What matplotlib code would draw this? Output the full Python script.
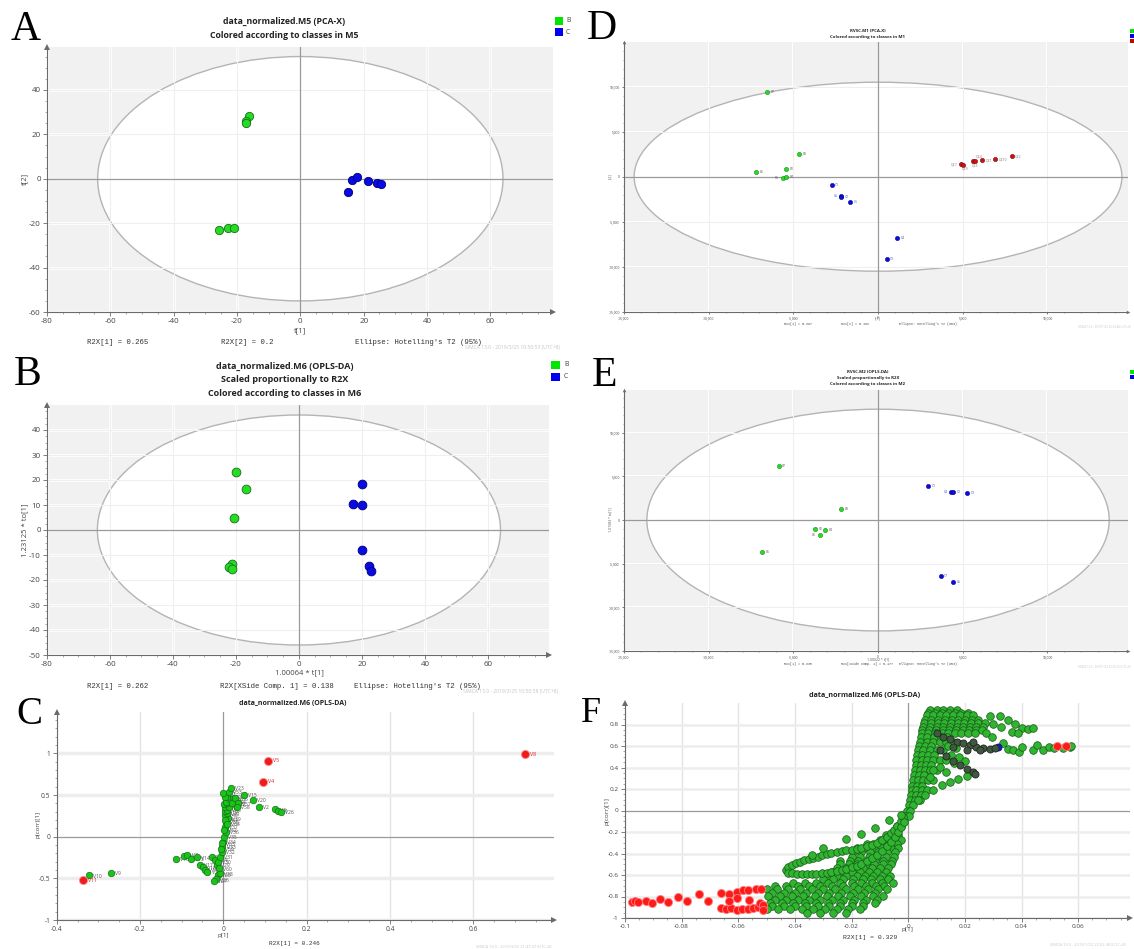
import matplotlib
matplotlib.use("Agg")
import matplotlib.pyplot as plt
from matplotlib.patches import Ellipse, Rectangle
from matplotlib.ticker import MultipleLocator

W, H = 1134, 949
SANS = ['Open Sans', 'DejaVu Sans']
MONO = ['Liberation Mono', 'DejaVu Sans Mono']
SERIF = ['Liberation Serif', 'DejaVu Serif']
plt.rcParams['font.family'] = SANS

# ---------------- Panel A data (PCA-X scores) ----------------
a_green_x = [-16.3, -17.1, -17.0, -25.6, -22.8, -20.8]
a_green_y = [28.3, 25.8, 25.2, -23.1, -22.3, -22.3]
a_blue_x = [16.3, 18.0, 21.3, 24.1, 25.4, 15.1]
a_blue_y = [-0.6, 0.6, -0.9, -1.9, -2.5, -6.1]
a_xticks = [-80, -60, -40, -20, 0, 20, 40, 60]
a_yticks = [-60, -40, -20, 0, 20, 40]
a_ellipse = (128, 110)

# ---------------- Panel B data (OPLS-DA scores) ----------------
b_green_x = [-20.1, -16.8, -20.7, -21.3, -22.2, -21.1]
b_green_y = [23.1, 16.4, 4.7, -13.5, -14.9, -15.5]
b_blue_x = [20.0, 17.2, 19.9, 20.0, 22.1, 22.9]
b_blue_y = [18.5, 10.5, 9.9, -8.0, -14.4, -16.3]
b_xticks = [-80, -60, -40, -20, 0, 20, 40, 60]
b_yticks = [-50, -40, -30, -20, -10, 0, 10, 20, 30, 40]
b_ellipse = (128, 92)

# ---------------- Panel C data (S-plot) ----------------
c_red_x = [0.725, 0.107, 0.095, -0.337]
c_red_y = [0.988, 0.908, 0.660, -0.525]
c_red_lab = ["V8", "V5", "V4", "V11"]
c_green_x = [-0.322, -0.269, -0.114, -0.094, -0.086, -0.078, -0.064, -0.056, -0.048, -0.044,
             -0.038, -0.028, -0.020, -0.012, -0.018, -0.022, -0.008, -0.016, -0.012, -0.008,
             -0.004, -0.002, 0.000, 0.002, 0.006, 0.004, 0.006, 0.012, 0.004, 0.008,
             0.005, 0.010, 0.004, 0.014, 0.002, 0.010, 0.006, 0.016, 0.010, 0.005,
             0.000, 0.013, 0.018, 0.024, 0.020, 0.028, 0.036, 0.032, 0.050, 0.072,
             0.085, 0.125, 0.131, 0.138, -0.006, -0.010, 0.003, 0.001, -0.004, 0.008]
c_green_y = [-0.464, -0.432, -0.270, -0.228, -0.216, -0.264, -0.248, -0.340, -0.368, -0.400,
             -0.420, -0.240, -0.280, -0.460, -0.512, -0.528, -0.440, -0.340, -0.300, -0.240,
             -0.180, -0.120, -0.060, 0.000, 0.060, 0.120, 0.180, 0.220, 0.260, 0.280,
             0.312, 0.320, 0.360, 0.360, 0.388, 0.408, 0.420, 0.448, 0.480, 0.480,
             0.520, 0.540, 0.588, 0.420, 0.400, 0.460, 0.400, 0.360, 0.504, 0.440,
             0.360, 0.328, 0.308, 0.300, -0.150, -0.380, 0.200, 0.080, -0.080, 0.150]
c_green_lab = ["V10", "V9", "V16", "V6", "V7", "V13", "V14", "V17", "V18", "V19",
               "V21", "V22", "V24", "V25", "V26", "V27", "V28", "V29", "V30", "V31",
               "V32", "V33", "V34", "V35", "V36", "V37", "V38", "V39", "V40", "V41",
               "V42", "V43", "V44", "V45", "V46", "V47", "V48", "V49", "V50", "V51",
               "V52", "V53", "V23", "V54", "V55", "V56", "V57", "V58", "V15", "V20",
               "V2", "V3", "V1", "V26", "V59", "V60", "V61", "V62", "V63", "V64"]
c_xticks = [-0.4, -0.2, 0, 0.2, 0.4, 0.6]
c_xlabels = ["-0.4", "-0.2", "0", "0.2", "0.4", "0.6"]
c_yticks = [-1, -0.5, 0, 0.5, 1]
c_ylabels = ["-1", "-0.5", "0", "0.5", "1"]

# ---------------- Panel D data (PCA-X, RVSC.M1) ----------------
d_green_x = [-6529, -4667, -5451, -7216, -5588, -5431]
d_green_y = [9370, 2556, 815, 519, -185, -74]
d_green_lab = ["B7", "B3", "B2", "B6", "B5", "B4"]
d_blue_x = [-2745, -2216, -2176, -1667, 1137, 510]
d_blue_y = [-889, -2111, -2296, -2815, -6815, -9148]
d_blue_lab = ["C1", "C6", "C2", "C5", "C4", "C3"]
d_red_x = [4882, 5000, 5608, 5745, 6137, 6922, 7882]
d_red_y = [1407, 1333, 1704, 1778, 1815, 1926, 2259]
d_red_lab = ["QC7", "QC9", "QC5", "QC4", "QC1", "QC10", "QC2"]
d_ellipse = (28800, 21000)

# ---------------- Panel E data (OPLS-DA, RVSC.M2) ----------------
e_green_x = [-5870, -2174, -3735, -3123, -3400, -6838]
e_green_y = [6145, 1298, -992, -1183, -1680, -3664]
e_green_lab = ["B7", "B3", "B2", "B4", "B5", "B6"]
e_blue_x = [2964, 4308, 4447, 5257, 3696, 4427]
e_blue_y = [3855, 3244, 3206, 3130, -6412, -7099]
e_blue_lab = ["C1", "C4", "C2", "C3", "C7", "C6"]
e_ellipse = (27300, 25400)

de_ticks = [-15000, -10000, -5000, 0, 5000, 10000]
de_labels = ["-15,000", "-10,000", "-5,000", "0", "5,000", "10,000"]

# ---------------- Panel F data (S-plot, many variables) ----------------
f_rows_y = [0.9375, 0.910, 0.890, 0.844, 0.810, 0.781, 0.750, 0.719, 0.680, 0.640,
            0.600, 0.5625, 0.520, 0.469, 0.420, 0.375, 0.330, 0.281, 0.230, 0.1875,
            0.140, 0.094, 0.050, 0.000, -0.050, -0.140, -0.230, -0.270, -0.3125, -0.350,
            -0.390, -0.430, -0.469, -0.500, -0.531, -0.570, -0.609, -0.640, -0.672, -0.700,
            -0.734, -0.765, -0.797, -0.830, -0.859, -0.890, -0.9125, -0.953]
f_rows_x = [
    [0.0076, 0.0100, 0.0124, 0.0147, 0.0171],
    [0.0070, 0.0094, 0.0118, 0.0141, 0.0165, 0.0188, 0.0212],
    [0.0065, 0.0088, 0.0112, 0.0135, 0.0159, 0.0182, 0.0206, 0.0229],
    [0.0059, 0.0082, 0.0106, 0.0129, 0.0153, 0.0176, 0.0200, 0.0224, 0.0247],
    [0.0056, 0.0080, 0.0104, 0.0128, 0.0151, 0.0175, 0.0198, 0.0222, 0.0245, 0.0270],
    [0.0053, 0.0076, 0.0100, 0.0124, 0.0147, 0.0171, 0.0194, 0.0218, 0.0241, 0.0265],
    [0.0050, 0.0074, 0.0098, 0.0121, 0.0145, 0.0169, 0.0192, 0.0216, 0.0240, 0.0262],
    [0.0047, 0.0071, 0.0094, 0.0118, 0.0141, 0.0165, 0.0188, 0.0212, 0.0235],
    [0.0044, 0.0068, 0.0091, 0.0115, 0.0138],
    [0.0041, 0.0065, 0.0088, 0.0112, 0.0135, 0.0159],
    [0.0038, 0.0060, 0.0082],
    [0.0035, 0.0053, 0.0076, 0.0100, 0.0124],
    [0.0032, 0.0050, 0.0070, 0.0092],
    [0.0029, 0.0047, 0.0065, 0.0088, 0.0112, 0.0135],
    [0.0027, 0.0044, 0.0062, 0.0082],
    [0.0024, 0.0041, 0.0059, 0.0076, 0.0100],
    [0.0021, 0.0038, 0.0056],
    [0.0018, 0.0035, 0.0053, 0.0071, 0.0088],
    [0.0015, 0.0032, 0.0050],
    [0.0012, 0.0029, 0.0047, 0.0065],
    [0.0009, 0.0026, 0.0044],
    [0.0006, 0.0024, 0.0041],
    [0.0003, 0.0018],
    [-0.0006, 0.0006],
    [-0.0010, 0.0003],
    [-0.0040, -0.0025],
    [-0.0080, -0.0055, -0.0035],
    [-0.0100, -0.0070, -0.0045, -0.0025],
    [-0.0147, -0.0124, -0.0088, -0.0065, -0.0041],
    [-0.0180, -0.0155, -0.0120, -0.0095, -0.0060, -0.0035],
    [-0.0194, -0.0165, -0.0135, -0.0106, -0.0076, -0.0047],
    [-0.0200, -0.0170, -0.0140, -0.0110, -0.0080, -0.0050],
    [-0.0241, -0.0206, -0.0176, -0.0147, -0.0118, -0.0088, -0.0059],
    [-0.0240, -0.0210, -0.0180, -0.0150, -0.0120, -0.0090, -0.0060],
    [-0.0253, -0.0218, -0.0188, -0.0159, -0.0129, -0.0100, -0.0071],
    [-0.0270, -0.0235, -0.0200, -0.0170, -0.0140, -0.0110, -0.0080],
    [-0.0288, -0.0253, -0.0218, -0.0182, -0.0153, -0.0124, -0.0094, -0.0065],
    [-0.0300, -0.0265, -0.0230, -0.0195, -0.0160, -0.0130, -0.0100, -0.0070],
    [-0.0406, -0.0365, -0.0324, -0.0282, -0.0241, -0.0200, -0.0165, -0.0129, -0.0094, -0.0053],
    [-0.0470, -0.0430, -0.0390, -0.0350, -0.0310, -0.0270, -0.0230, -0.0190, -0.0150, -0.0115, -0.0085],
    [-0.0500, -0.0465, -0.0424, -0.0382, -0.0341, -0.0300, -0.0259, -0.0218, -0.0176, -0.0141, -0.0106, -0.0076],
    [-0.0480, -0.0440, -0.0400, -0.0360, -0.0318, -0.0278, -0.0237, -0.0195, -0.0155, -0.0118],
    [-0.0494, -0.0453, -0.0412, -0.0371, -0.0329, -0.0288, -0.0247, -0.0206, -0.0165, -0.0124, -0.0088],
    [-0.0470, -0.0430, -0.0390, -0.0350, -0.0310, -0.0270, -0.0230, -0.0190, -0.0150, -0.0110],
    [-0.0488, -0.0447, -0.0406, -0.0365, -0.0324, -0.0282, -0.0241, -0.0200, -0.0159, -0.0118],
    [-0.0480, -0.0440, -0.0400, -0.0360, -0.0320, -0.0280, -0.0240, -0.0200, -0.0160],
    [-0.0500, -0.0459, -0.0418, -0.0376, -0.0335, -0.0294, -0.0253, -0.0212, -0.0171],
    [-0.0359, -0.0312, -0.0265, -0.0218],
]
f_loop_x = [-0.0432, -0.0424, -0.0412, -0.0398, -0.0382, -0.0367, -0.0352, -0.0335, -0.0320, -0.0304,
            -0.0288, -0.0271, -0.0253, -0.0235, -0.0218, -0.0200, -0.0182, -0.0165, -0.0147, -0.0129,
            -0.0112, -0.0094, -0.0076, -0.0062, -0.0049, -0.0038, -0.0027, -0.0018,
            -0.0426, -0.0412, -0.0394, -0.0376, -0.0359, -0.0341, -0.0324, -0.0306, -0.0288, -0.0271,
            -0.0253, -0.0235, -0.0218, -0.0200, -0.0182, -0.0165, -0.0147, -0.0129, -0.0112, -0.0094,
            -0.0076, -0.0062, -0.0047, -0.0035, -0.0024, -0.0014]
f_loop_y = [-0.556, -0.525, -0.506, -0.491, -0.475, -0.4625, -0.450, -0.4375, -0.428, -0.416,
            -0.406, -0.397, -0.3875, -0.378, -0.372, -0.366, -0.356, -0.347, -0.334, -0.319,
            -0.300, -0.275, -0.244, -0.2125, -0.181, -0.141, -0.100, -0.0625,
            -0.578, -0.584, -0.5875, -0.591, -0.591, -0.591, -0.5875, -0.584, -0.578, -0.572,
            -0.5625, -0.553, -0.541, -0.528, -0.5125, -0.494, -0.472, -0.444, -0.4125, -0.375,
            -0.334, -0.294, -0.250, -0.203, -0.156, -0.109]
f_wedge_x = [0.0206, 0.0176, 0.0147, 0.0118, 0.0088, 0.0059, 0.0035, 0.0088, 0.0112, 0.0135,
             0.0076, 0.0140, 0.0170, 0.0150, 0.0180, 0.0200, 0.0160]
f_wedge_y = [0.319, 0.294, 0.266, 0.234, 0.194, 0.140, 0.094, 0.375, 0.406, 0.359,
             0.3125, 0.600, 0.580, 0.520, 0.500, 0.460, 0.440]
f_arm_x = [0.0288, 0.0324, 0.0353, 0.0376, 0.0400, 0.0424, 0.0441, 0.0300, 0.0329, 0.0365,
           0.0388, 0.0276, 0.0294, 0.0335, 0.0353, 0.0371, 0.0391, 0.0400, 0.0439, 0.0453,
           0.0476, 0.0498, 0.0514, 0.0547, 0.0571, 0.0576]
f_arm_y = [0.875, 0.881, 0.844, 0.806, 0.766, 0.756, 0.766, 0.806, 0.775, 0.734,
           0.719, 0.719, 0.6875, 0.631, 0.572, 0.5625, 0.547, 0.594, 0.5625, 0.609,
           0.5625, 0.594, 0.578, 0.578, 0.594, 0.600]
f_scatter_x = [-0.0067, -0.0118, -0.0165, -0.0218, -0.0302, -0.0341, -0.0024]
f_scatter_y = [-0.084, -0.1625, -0.219, -0.266, -0.353, -0.4125, -0.040]
f_dark_x = [0.0100, 0.0124, 0.0147, 0.0171, 0.0194, 0.0218, 0.0241, 0.0265, 0.0288, 0.0306,
            0.0206, 0.0253, 0.0229, 0.0159, 0.0112, 0.0135, 0.0159, 0.0182, 0.0206, 0.0229, 0.0235]
f_dark_y = [0.719, 0.681, 0.6625, 0.640, 0.625, 0.609, 0.594, 0.584, 0.575, 0.584,
            0.5625, 0.5625, 0.640, 0.594, 0.5625, 0.506, 0.4625, 0.422, 0.390, 0.359, 0.3375]
f_red_x = [-0.0976, -0.0965, -0.0953, -0.0926, -0.0904, -0.0876, -0.0847, -0.0814, -0.0780, -0.0740,
           -0.0706, -0.0661, -0.0633, -0.0606, -0.0582, -0.0565, -0.0538, -0.0521, -0.0661, -0.0644,
           -0.0624, -0.0606, -0.0588, -0.0565, -0.0549, -0.0529, -0.0524, -0.0514, -0.0512, -0.0633,
           -0.0606, -0.0561, 0.0527, 0.0556]
f_red_y = [-0.850, -0.844, -0.853, -0.8375, -0.859, -0.819, -0.853, -0.806, -0.844, -0.781,
           -0.844, -0.766, -0.775, -0.759, -0.744, -0.741, -0.734, -0.728, -0.906, -0.916,
           -0.906, -0.922, -0.9125, -0.9125, -0.906, -0.897, -0.859, -0.881, -0.922, -0.8375,
           -0.8125, -0.834, 0.600, 0.600]
f_blue_x = [0.0318]
f_blue_y = [0.594]
f_xticks = [-0.1, -0.08, -0.06, -0.04, -0.02, 0, 0.02, 0.04, 0.06]
f_xlabels = ["-0.1", "-0.08", "-0.06", "-0.04", "-0.02", "0", "0.02", "0.04", "0.06"]
f_yticks = [-1, -0.8, -0.6, -0.4, -0.2, 0, 0.2, 0.4, 0.6, 0.8]
f_ylabels = ["-1", "-0.8", "-0.6", "-0.4", "-0.2", "0", "0.2", "0.4", "0.6", "0.8"]

# ---------------- colours ----------------
GREEN = '#22dd22'
GREEN_EDGE = '#1d6b1d'
BLUE = '#0a0ae6'
BLUE_EDGE = '#00006e'
RED = '#ee1c1c'
FGREEN = '#2fb52f'

fig = plt.figure(figsize=(W / 100, H / 100), dpi=100)
fig.patch.set_facecolor('white')


def rect(l, t, r, b):
    return [l / W, 1 - b / H, (r - l) / W, (b - t) / H]


def ftext(x, y, s, size, ha='center', va='center', weight='normal', color='#222222',
          family=None, rotation=0):
    fig.text(x / W, 1 - y / H, s, fontsize=size, ha=ha, va=va, fontweight=weight,
             color=color, family=family if family else SANS, rotation=rotation)


def fbox(x, y, w, h, color):
    fig.add_artist(Rectangle((x / W, 1 - (y + h) / H), w / W, h / H,
                             transform=fig.transFigure, facecolor=color,
                             edgecolor='none', clip_on=False))


def make_axes(box, xlim, ylim, xticks, yticks, xlabels, ylabels, bg, fs,
              minor_x, minor_y, arrow_ms=4, tlen=3):
    ax = fig.add_axes(rect(*box))
    ax.set_xlim(xlim)
    ax.set_ylim(ylim)
    ax.set_facecolor(bg)
    for s in ('top', 'right'):
        ax.spines[s].set_visible(False)
    for s in ('left', 'bottom'):
        ax.spines[s].set_color('#6a6a6a')
        ax.spines[s].set_linewidth(0.8)
    ax.set_xticks(xticks)
    ax.set_xticklabels(xlabels)
    ax.set_yticks(yticks)
    ax.set_yticklabels(ylabels)
    ax.xaxis.set_minor_locator(MultipleLocator(minor_x))
    ax.yaxis.set_minor_locator(MultipleLocator(minor_y))
    ax.tick_params(which='major', direction='out', length=tlen, width=0.6, colors='#6a6a6a',
                   labelsize=fs, labelcolor='#444444', pad=1.5)
    ax.tick_params(which='minor', direction='out', length=tlen * 0.5, width=0.5, colors='#888888')
    ax.plot(1, 0, '>', color='#6a6a6a', ms=arrow_ms, transform=ax.transAxes, clip_on=False,
            markeredgewidth=0)
    ax.plot(0, 1, '^', color='#6a6a6a', ms=arrow_ms, transform=ax.transAxes, clip_on=False,
            markeredgewidth=0)
    return ax


def ellipse_panel(ax, xt, yt, ell, lw_grid=2.0):
    for x in xt:
        if x != 0:
            ax.axvline(x, color='white', lw=lw_grid, zorder=0.2)
    for y in yt:
        if y != 0:
            ax.axhline(y, color='white', lw=lw_grid, zorder=0.2)
    ax.add_patch(Ellipse((0, 0), ell[0], ell[1], facecolor='white', edgecolor='#b4b4b4',
                         lw=1.0, zorder=0.5))
    for x in xt:
        if x != 0:
            ax.axvline(x, color='#efefef', lw=0.8, zorder=0.6)
    for y in yt:
        if y != 0:
            ax.axhline(y, color='#efefef', lw=0.8, zorder=0.6)
    ax.axvline(0, color='#9a9a9a', lw=0.9, zorder=0.7)
    ax.axhline(0, color='#9a9a9a', lw=0.9, zorder=0.7)


def plain_grid(ax, xt, yt, hband=2.0):
    for x in xt:
        if x != 0:
            ax.axvline(x, color='#e4e4e4', lw=1.0, zorder=0.2)
    for y in yt:
        if y != 0:
            ax.axhline(y, color='#ededed', lw=hband, zorder=0.2)
    ax.axvline(0, color='#9a9a9a', lw=0.9, zorder=0.7)
    ax.axhline(0, color='#9a9a9a', lw=0.9, zorder=0.7)


# ======================= Panel A =======================
axA = make_axes((47, 47, 553, 312), (-80, 79.8), (-60, 59.3), a_xticks, a_yticks,
                [str(v) for v in a_xticks], [str(v) for v in a_yticks], '#f1f1f1', 5.8, 5, 5)
ellipse_panel(axA, a_xticks, a_yticks, a_ellipse)
axA.scatter(a_green_x, a_green_y, s=36, c=GREEN, edgecolors=GREEN_EDGE, linewidths=0.6, zorder=3)
axA.scatter(a_blue_x, a_blue_y, s=36, c=BLUE, edgecolors=BLUE_EDGE, linewidths=0.6, zorder=3)
ftext(26, 30, 'A', 30, ha='center', family=SERIF, color='black')
ftext(284, 21, 'data_normalized.M5 (PCA-X)', 6.3, weight='bold')
ftext(284, 35, 'Colored according to classes in M5', 6.3, weight='bold')
fbox(555, 17, 8, 8, '#00e600')
fbox(555, 28, 8, 8, '#0000ee')
ftext(566, 21, 'B', 5, ha='left', color='#444444')
ftext(566, 32, 'C', 5, ha='left', color='#444444')
ftext(300, 331, 't[1]', 5.5, color='#444444')
ftext(25, 179, 't[2]', 5.5, color='#444444', rotation=90)
ftext(87, 343, 'R2X[1] = 0.265', 5.3, ha='left', family=MONO, color='#333333')
ftext(221, 343, 'R2X[2] = 0.2', 5.3, ha='left', family=MONO, color='#333333')
ftext(355, 343, "Ellipse: Hotelling's T2 (95%)", 5.3, ha='left', family=MONO, color='#333333')
ftext(465, 348, 'SIMCA 13.0 - 2019/3/25 10:50:53 (UTC+8)', 3.6, ha='left', color='#c4c4c4')

# ======================= Panel B =======================
axB = make_axes((47, 405, 549, 655), (-80, 79.4), (-50, 50), b_xticks, b_yticks,
                [str(v) for v in b_xticks], [str(v) for v in b_yticks], '#f1f1f1', 5.8, 5, 2.5)
ellipse_panel(axB, b_xticks, b_yticks, b_ellipse)
axB.scatter(b_green_x, b_green_y, s=40, c=GREEN, edgecolors=GREEN_EDGE, linewidths=0.6, zorder=3)
axB.scatter(b_blue_x, b_blue_y, s=40, c=BLUE, edgecolors=BLUE_EDGE, linewidths=0.6, zorder=3)
ftext(28, 375, 'B', 30, ha='center', family=SERIF, color='black')
ftext(285, 366, 'data_normalized.M6 (OPLS-DA)', 6.5, weight='bold')
ftext(285, 380, 'Scaled proportionally to R2X', 6.5, weight='bold')
ftext(285, 394, 'Colored according to classes in M6', 6.5, weight='bold')
fbox(551, 361, 9, 8, '#00e600')
fbox(551, 373, 9, 8, '#0000ee')
ftext(564, 365, 'B', 5, ha='left', color='#444444')
ftext(564, 377, 'C', 5, ha='left', color='#444444')
ftext(299, 673, '1.00064 * t[1]', 5.5, color='#444444')
ftext(25, 530, '1.23125 * to[1]', 5.5, color='#444444', rotation=90)
ftext(87, 686, 'R2X[1] = 0.262', 5.3, ha='left', family=MONO, color='#333333')
ftext(220, 686, 'R2X[XSide Comp. 1] = 0.138', 5.3, ha='left', family=MONO, color='#333333')
ftext(354, 686, "Ellipse: Hotelling's T2 (95%)", 5.3, ha='left', family=MONO, color='#333333')
ftext(463, 691, 'SIMCA 13.0 - 2019/3/25 10:50:58 (UTC+8)', 3.6, ha='left', color='#c4c4c4')

# ======================= Panel C =======================
axC = make_axes((56.7, 711.6, 554, 920.1), (-0.4, 0.794), (-1, 1.5), c_xticks, c_yticks,
                c_xlabels, c_ylabels, 'white', 4.8, 0.05, 0.1)
plain_grid(axC, c_xticks, c_yticks, hband=2.5)
axC.scatter(c_green_x, c_green_y, s=22, c='#16c616', edgecolors='#1d6b1d', linewidths=0.5, zorder=3)
for x, y, lab in zip(c_green_x, c_green_y, c_green_lab):
    axC.annotate(lab, (x, y), xytext=(3, -0.5), textcoords='offset points', fontsize=3.6,
                 color='#555555', va='center', zorder=2)
axC.scatter(c_red_x, c_red_y, s=34, c=RED, edgecolors='#ff8a8a', linewidths=0.6, zorder=4)
for x, y, lab in zip(c_red_x, c_red_y, c_red_lab):
    axC.annotate(lab, (x, y), xytext=(3.5, 0), textcoords='offset points', fontsize=3.8,
                 color='#dd2222', va='center', zorder=4)
ftext(29, 714, 'C', 28, ha='center', family=SERIF, color='black')
ftext(293, 703, 'data_normalized.M6 (OPLS-DA)', 5, weight='bold')
ftext(223, 935, 'p[1]', 4.5, color='#444444')
ftext(38, 825, 'p(corr)[1]', 4.5, color='#444444', rotation=90)
ftext(294, 943, 'R2X[1] = 0.246', 4.3, family=MONO, color='#333333')
ftext(476, 947, 'SIMCA 13.0 - 2019/3/25 21:47:47 (UTC+8)', 2.9, ha='left', color='#c8c8c8')

# ======================= Panel D =======================
axD = make_axes((624, 41.7, 1128, 311.7), (-15000, 14760), (-15000, 15000), de_ticks, de_ticks,
                de_labels, de_labels, '#f1f1f1', 2.4, 1000, 1000, arrow_ms=2.5, tlen=1.5)
ellipse_panel(axD, de_ticks, de_ticks, d_ellipse, lw_grid=1.5)
axD.scatter(d_green_x, d_green_y, s=10, c=GREEN, edgecolors=GREEN_EDGE, linewidths=0.3, zorder=3)
axD.scatter(d_blue_x, d_blue_y, s=10, c=BLUE, edgecolors=BLUE_EDGE, linewidths=0.3, zorder=3)
axD.scatter(d_red_x, d_red_y, s=10, c='#cc1111', edgecolors='#660000', linewidths=0.3, zorder=3)
d_off = {"B5": (-6, 0), "C6": (-5, 0), "QC7": (-7, 0), "QC9": (-1, -3), "QC4": (0, 3), "QC5": (-1, -3)}
for xs, ys, labs, col in ((d_green_x, d_green_y, d_green_lab, '#666666'),
                          (d_blue_x, d_blue_y, d_blue_lab, '#4050c0'),
                          (d_red_x, d_red_y, d_red_lab, '#777777')):
    for x, y, lab in zip(xs, ys, labs):
        axD.annotate(lab, (x, y), xytext=d_off.get(lab, (2.5, 0)), textcoords='offset points',
                     fontsize=2.3, color=col, va='center', zorder=4)
ftext(587, 29, 'D', 30, ha='left', family=SERIF, color='black')
ftext(868, 31, 'RVSC.M1 (PCA-X)', 3.2, weight='bold')
ftext(868, 37, 'Colored according to classes in M1', 3.2, weight='bold')
fbox(1130, 29, 6, 4, '#00e600')
fbox(1130, 34, 6, 4, '#0000ee')
fbox(1130, 39, 6, 4, '#cc0000')
ftext(878, 318, 't[1]', 2.5, color='#555555')
ftext(610, 176, 't[2]', 2.5, color='#555555', rotation=90)
ftext(784, 324, 'R2X[1] = 0.397', 2.3, ha='left', family=MONO, color='#444444')
ftext(841, 324, 'R2X[2] = 0.162', 2.3, ha='left', family=MONO, color='#444444')
ftext(899, 324, "Ellipse: Hotelling's T2 (95%)", 2.3, ha='left', family=MONO, color='#444444')
ftext(1131, 327, 'SIMCA 13.0 - 2019/1/22 22:03:48 (UTC+8)', 2.0, ha='right', color='#c8c8c8')

# ======================= Panel E =======================
axE = make_axes((624, 390, 1128, 651), (-15000, 14760), (-15000, 14900), de_ticks, de_ticks,
                de_labels, de_labels, '#f1f1f1', 2.4, 1000, 1000, arrow_ms=2.5, tlen=1.5)
ellipse_panel(axE, de_ticks, de_ticks, e_ellipse, lw_grid=1.5)
axE.scatter(e_green_x, e_green_y, s=10, c=GREEN, edgecolors=GREEN_EDGE, linewidths=0.3, zorder=3)
axE.scatter(e_blue_x, e_blue_y, s=10, c=BLUE, edgecolors=BLUE_EDGE, linewidths=0.3, zorder=3)
e_off = {"B5": (-6, 0), "C4": (-5, 0)}
for xs, ys, labs, col in ((e_green_x, e_green_y, e_green_lab, '#666666'),
                          (e_blue_x, e_blue_y, e_blue_lab, '#4050c0')):
    for x, y, lab in zip(xs, ys, labs):
        axE.annotate(lab, (x, y), xytext=e_off.get(lab, (2.5, 0)), textcoords='offset points',
                     fontsize=2.3, color=col, va='center', zorder=4)
ftext(592, 376, 'E', 30, ha='left', family=SERIF, color='black')
ftext(868, 372, 'RVSC.M2 (OPLS-DA)', 3.2, weight='bold')
ftext(868, 378, 'Scaled proportionally to R2X', 3.2, weight='bold')
ftext(868, 384, 'Colored according to classes in M2', 3.2, weight='bold')
fbox(1130, 370, 6, 4, '#00e600')
fbox(1130, 375, 6, 4, '#0000ee')
ftext(878, 659, '1.00022 * t[1]', 2.5, color='#555555')
ftext(610, 520, '1.01583 * to[1]', 2.5, color='#555555', rotation=90)
ftext(784, 664, 'R2X[1] = 0.335', 2.3, ha='left', family=MONO, color='#444444')
ftext(841, 664, 'R2X[XSide Comp. 1] = 0.177', 2.3, ha='left', family=MONO, color='#444444')
ftext(899, 664, "Ellipse: Hotelling's T2 (95%)", 2.3, ha='left', family=MONO, color='#444444')
ftext(1131, 667, 'SIMCA 13.0 - 2019/1/22 22:03:10 (UTC+8)', 2.0, ha='right', color='#c8c8c8')

# ======================= Panel F =======================
axF = make_axes((625, 703, 1130, 918), (-0.1, 0.0783), (-1, 1.0), f_xticks, f_yticks,
                f_xlabels, f_ylabels, 'white', 4.6, 0.005, 0.05)
plain_grid(axF, f_xticks, f_yticks, hband=1.8)
fkw = dict(s=30, c=FGREEN, edgecolors='#1b5e1b', linewidths=0.55, zorder=3)
for y, xs in zip(f_rows_y, f_rows_x):
    axF.scatter(xs, [y] * len(xs), **fkw)
axF.scatter(f_loop_x, f_loop_y, **fkw)
axF.scatter(f_wedge_x, f_wedge_y, **fkw)
axF.scatter(f_scatter_x, f_scatter_y, **fkw)
axF.scatter(f_arm_x, f_arm_y, **fkw)
axF.scatter(f_dark_x, f_dark_y, s=26, c='#3e5a3e', edgecolors='#222222', linewidths=0.6, zorder=3.5)
axF.scatter(f_blue_x, f_blue_y, s=26, c='#1a1ad0', edgecolors='#000060', linewidths=0.5, zorder=3.4)
axF.scatter(f_red_x, f_red_y, s=34, c='#ff1a1a', edgecolors='#ff8080', linewidths=0.6, zorder=4)
ftext(581, 722, 'F', 26, ha='left', va='baseline', family=SERIF, color='black')
ftext(865, 696, 'data_normalized.M6 (OPLS-DA)', 5.2, weight='bold')
ftext(907, 930, 'p[1]', 4.6, color='#444444')
ftext(607, 811, 'p(corr)[1]', 4.6, color='#444444', rotation=90)
ftext(870, 938, 'R2X[1] = 0.329', 4.6, family=MONO, color='#333333')
ftext(1050, 945, 'SIMCA 13.0 - 2019/1/22 22:02:48 (UTC+8)', 2.9, ha='left', color='#c8c8c8')

fig.savefig('out.png', dpi=100, facecolor='white')
